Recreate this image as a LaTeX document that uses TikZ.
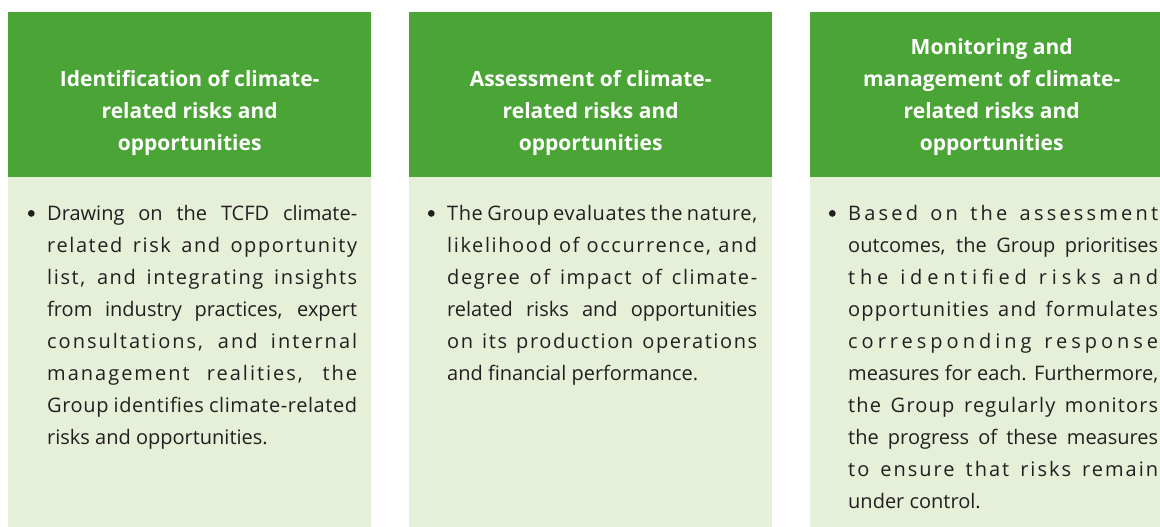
\documentclass[tikz,border=0pt]{standalone}
\usepackage{fontspec}
\setmainfont{Open Sans}
\usetikzlibrary{positioning}
\definecolor{LeafGreen}{HTML}{4BA536}
\definecolor{PaleGreen}{HTML}{E6EFD8}
\definecolor{InkGray}{HTML}{231F20}
% wider tracking for the loose lines
\newcommand{\spread}[2][10]{{\addfontfeature{LetterSpace=#1}#2}}
\newcommand{\dotmark}{\leavevmode\llap{\tikz[x=1pt,y=1pt,baseline=0pt]
    \fill[InkGray] (0,7) circle (3.4);\hspace{12.5pt}}}

\begin{document}
\begin{tikzpicture}[
    x=1pt, y=-1pt,
    head/.style={fill=LeafGreen, inner sep=0, anchor=north west,
        minimum width=363pt, minimum height=165pt},
    panel/.style={fill=PaleGreen, inner sep=0, anchor=north west,
        minimum width=363pt, minimum height=350pt},
    title/.style={text=white, font=\fontsize{21}{32}\selectfont\bfseries,
        align=center, inner sep=0},
    point/.style={text=InkGray, font=\fontsize{20}{32}\selectfont,
        text width=310pt, align=justify, inner sep=0, anchor=north west},
]
\useasboundingbox (0,0) rectangle (1160,527);

% green headings
\node[head] (hd1) at (8,12) {};
\node[head] (hd2) at (409,12) {};
\node[head] (hd3) at (810,12) {};

\node[title, above=22pt of hd1.south] (tt1)
    {Identification of climate-\\related risks and\\opportunities};
\node[title, above=22pt of hd2.south] (tt2)
    {Assessment of climate-\\related risks and\\opportunities};
\node[title, above=22pt of hd3.south] (tt3)
    {Monitoring and\\management of climate-\\related risks and\\opportunities};

% pale panels below
\node[panel] (bd1) at (8,177) {};
\node[panel] (bd2) at (409,177) {};
\node[panel] (bd3) at (810,177) {};

\node[point] (tx1) at (47,205) {\dotmark Drawing on the TCFD climate-\linebreak
    \spread[8]{related risk and opportunity}\linebreak
    \spread[8]{list, and integrating insights}\linebreak
    from industry practices, expert\linebreak
    \spread{consultations, and internal}\linebreak
    \spread{management realities, the}\linebreak
    \spread[3]{Group identifies climate-related}\linebreak
    risks and opportunities.};

\node[point] (tx2) at (447,205) {\dotmark \spread[3]{The Group evaluates the nature,}\linebreak
    \spread[8]{likelihood of occurrence, and}\linebreak
    \spread[8]{degree of impact of climate-}\linebreak
    related risks and opportunities\linebreak
    \spread[8]{on its production operations}\linebreak
    and financial performance.};

\node[point] (tx3) at (848,205) {\dotmark \spread[16]{Based on the assessment}\linebreak
    outcomes, the Group prioritises\linebreak
    \spread[24]{the identified risks and}\linebreak
    \spread[6]{opportunities and formulates}\linebreak
    \spread[20]{corresponding response}\linebreak
    measures for each. Furthermore,\linebreak
    \spread[6]{the Group regularly monitors}\linebreak
    the progress of these measures\linebreak
    \spread{to ensure that risks remain}\linebreak
    under control.};

\end{tikzpicture}
\end{document}
